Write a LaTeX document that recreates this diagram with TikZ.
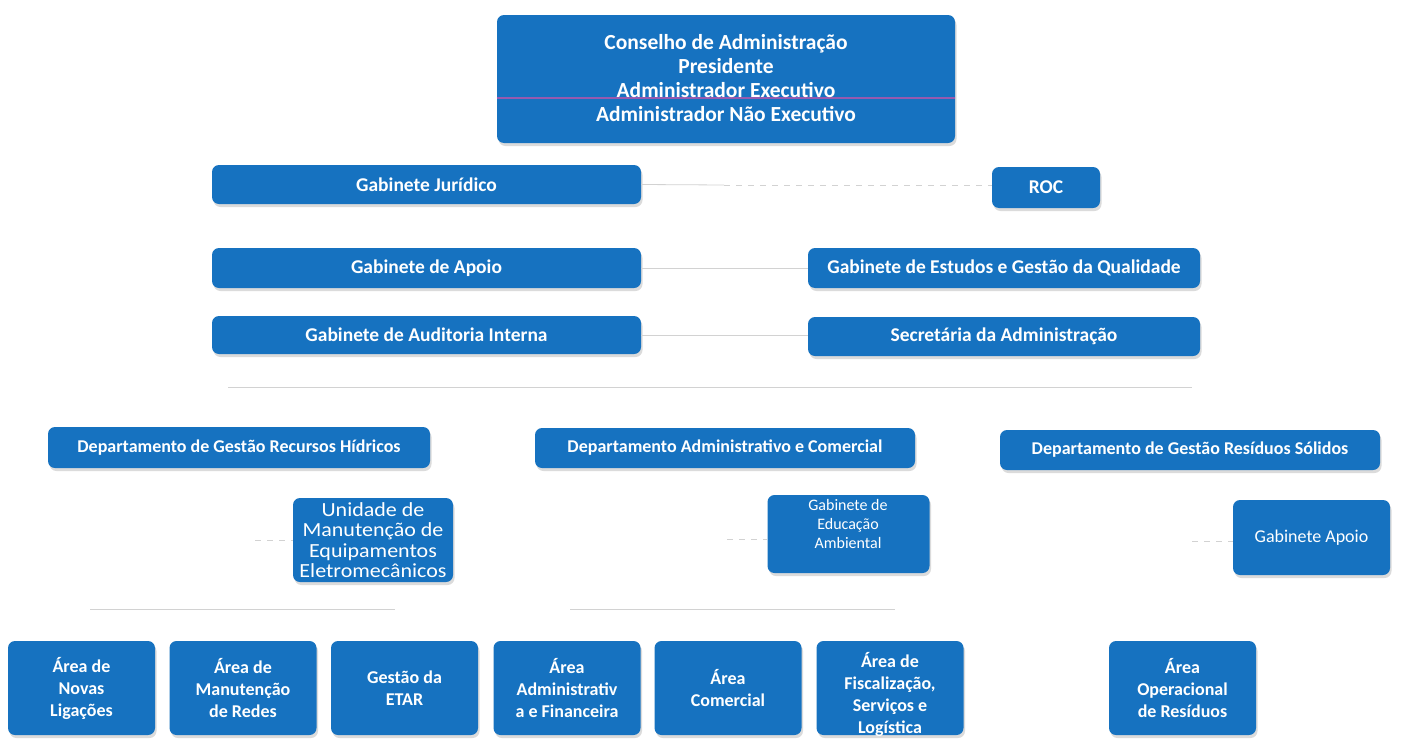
\documentclass[tikz,border=0pt]{standalone}
\usepackage{fontspec}
\setmainfont{Carlito}
\usetikzlibrary{shadows}
\definecolor{boxblue}{RGB}{22,114,192}
\definecolor{linegray}{RGB}{210,210,210}
\definecolor{barpurple}{RGB}{150,90,175}
\begin{document}
\begin{tikzpicture}[x=1pt,y=-1pt,
  box/.style={fill=boxblue, rounded corners=7pt, text=white, align=center, inner sep=0pt,
    drop shadow={shadow xshift=1.5pt, shadow yshift=-3pt, fill=black!35, opacity=0.4}},
  wh/.style 2 args={minimum width=#1pt, minimum height=#2pt},
  single/.style={font=\bfseries\fontsize{19.5}{22}\selectfont},
  dept/.style={font=\bfseries\fontsize{18}{21}\selectfont},
  area/.style={box, wh={147}{94}, font=\bfseries\fontsize{18}{22}\selectfont},
  conn/.style={draw=linegray, line width=0.8pt},
  dconn/.style={conn, dashed, dash pattern=on 6pt off 6pt}]
\useasboundingbox[fill=white] (0,0) rectangle (1401,739);

% top box
\node[box, wh={458}{128}] (top) at (726,79) {};
\draw[barpurple, line width=1.6pt] (top.west |- 0,98) -- (top.east |- 0,98);
\node[text=white, align=center, inner sep=0pt, font=\bfseries\fontsize{21.5}{24}\selectfont] (toptext) at (726,78)
  {Conselho de Administração\\Presidente\\Administrador Executivo\\Administrador Não Executivo};

% staff row
\node[box, single, wh={429}{39}] (jur) at (426.5,184.5) {Gabinete Jurídico};
\node[box, single, wh={108}{41}] (roc) at (1046,187.5) {ROC};
\node[box, single, wh={429}{40}] (apoio) at (426.5,268) {Gabinete de Apoio};
\node[box, single, wh={392}{40}] (estudos) at (1004,268) {Gabinete de Estudos e Gestão da Qualidade};
\node[box, single, wh={429}{38}] (audit) at (426.5,335) {Gabinete de Auditoria Interna};
\node[box, single, wh={392}{39}] (secr) at (1004,336.5) {Secretária da Administração};

% departments
\node[box, dept, wh={382}{41}] (drh) at (239,447.5) {Departamento de Gestão Recursos Hídricos};
\node[box, dept, wh={380}{40}] (dac) at (725,448) {Departamento Administrativo e Comercial};
\node[box, dept, wh={380}{40}] (drs) at (1190,450) {Departamento de Gestão Resíduos Sólidos};

% units
\node[box, wh={160}{84}, font=\fontsize{20}{20.5}\selectfont\addfontfeature{FakeStretch=1.1}] (ume) at (373,540)
  {Unidade de\\Manutenção de\\Equipamentos\\Eletromecânicos};
\node[box, wh={162}{78}] (gea) at (848.5,534) {};
\node[text=white, align=center, inner sep=0pt, font=\fontsize{16}{19}\selectfont] (geatext) at (848,524)
  {Gabinete de\\Educação\\Ambiental};
\node[box, wh={157}{75}, font=\fontsize{18}{20}\selectfont] (gap) at (1311.5,537.5) {Gabinete Apoio};

% areas
\node[area] (a1) at (81.5,688) {Área de\\Novas\\Ligações};
\node[area] (a2) at (243,688) {Área de\\Manutenção\\de Redes};
\node[area] (a3) at (404.5,688) {Gestão da\\ETAR};
\node[area] (a4) at (567,688) {Área\\Administrativ\\a e Financeira};
\node[area] (a5) at (728,688) {Área\\Comercial};
\node[area] (a6) at (890,688) {};
\node[text=white, align=center, inner sep=0pt, font=\bfseries\fontsize{18}{22}\selectfont] (a6text) at (890,694)
  {Área de\\Fiscalização,\\Serviços e\\Logística};
\node[area] (a7) at (1182.5,688) {Área\\Operacional\\de Resíduos};

% connectors
\coordinate (j1) at (724,185);
\draw[conn] (jur.east) -- (j1);
\draw[dconn] (j1) -- (j1 -| roc.west);
\draw[conn] (apoio.east) -- (apoio.east -| estudos.west);
\draw[conn] (audit.east) -- (audit.east -| secr.west);
\coordinate (busl) at (228,387);
\coordinate (busr) at (1192,387);
\draw[conn] (busl) -- (busr);
\coordinate (u1) at (255,540);
\draw[dconn] (u1) -- (ume.west);
\coordinate (g1) at (727,539);
\draw[dconn] (g1) -- (g1 -| gea.west);
\coordinate (p1) at (1192,541);
\draw[dconn] (p1) -- (p1 -| gap.west);
\coordinate (h1l) at (90,609);
\coordinate (h1r) at (395,609);
\draw[conn] (h1l) -- (h1r);
\coordinate (h2l) at (570,609);
\coordinate (h2r) at (895,609);
\draw[conn] (h2l) -- (h2r);
\end{tikzpicture}
\end{document}
